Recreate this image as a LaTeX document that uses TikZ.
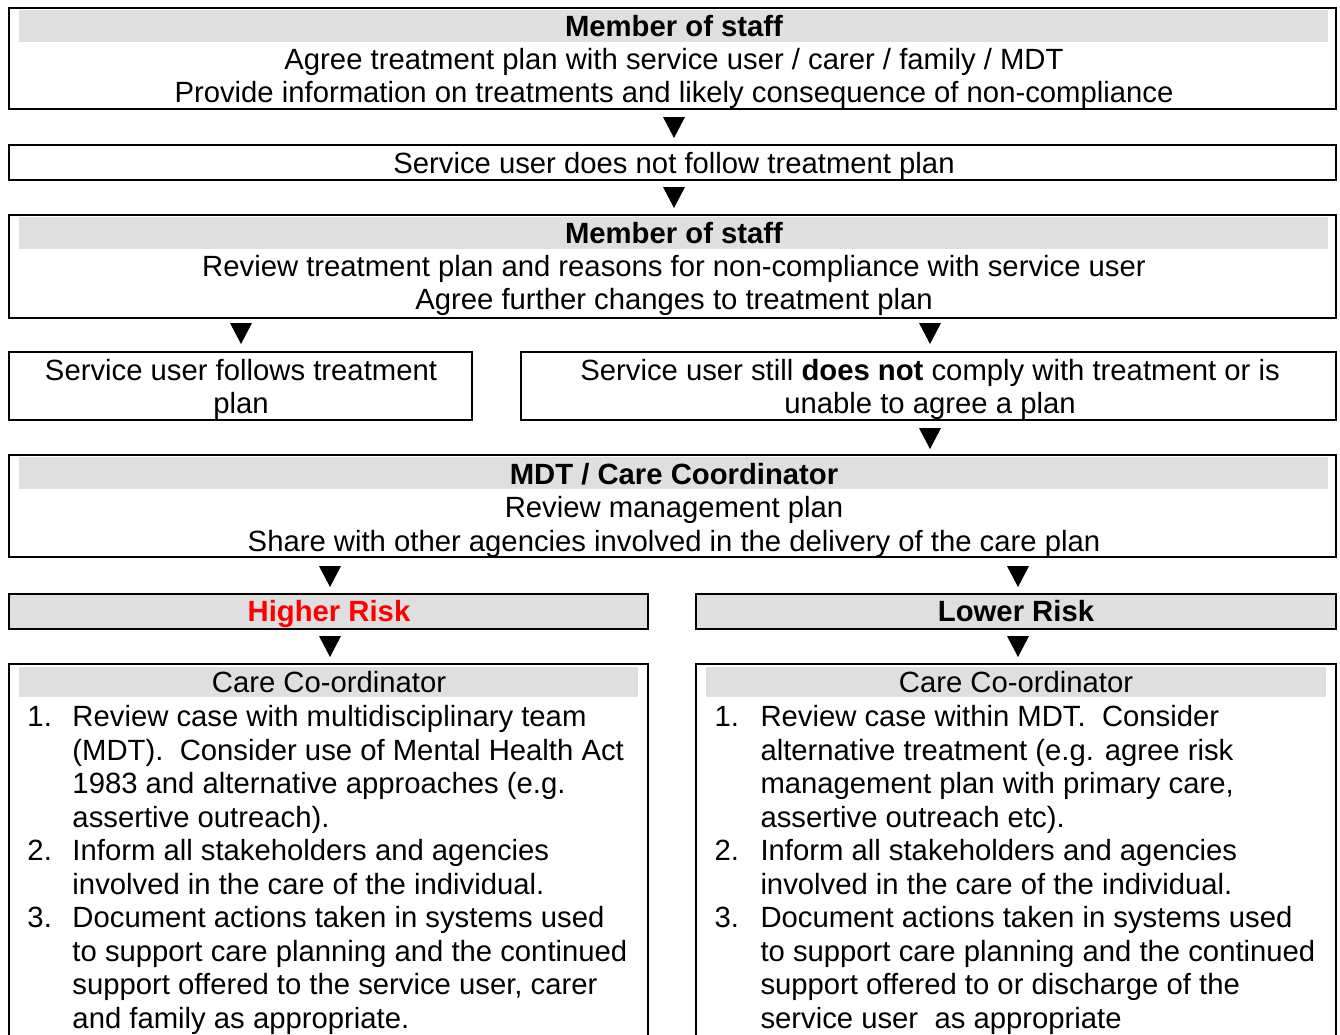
\documentclass[tikz,border=0pt]{standalone}
\usepackage{fontspec}
\setmainfont{Liberation Sans}
\usetikzlibrary{fit}
\definecolor{band}{RGB}{223,223,223}
\definecolor{hired}{RGB}{255,0,0}
\newcommand\downtri[2]{\fill[tri] (#1-11,#2) -- (#1+11,#2) -- (#1,#2+21) -- cycle;}
\begin{document}
\begin{tikzpicture}[x=0.41pt,y=-0.41pt,
  box/.style={draw=black, line width=0.9pt, inner sep=0pt},
  bandfill/.style={fill=band},
  tri/.style={fill=black},
  txt/.style={font=\fontsize{12pt}{13.74pt}\selectfont, inner sep=0pt, anchor=base},
  hdr/.style={font=\fontsize{12pt}{13.74pt}\selectfont\bfseries, inner sep=0pt, anchor=base},
  ltxt/.style={txt, anchor=base west}]
\useasboundingbox (0,0) rectangle (1340,1034);
\clip (0,0) rectangle (1340,1034);
\fill[white] (0,0) rectangle (1340,1034);

% gray bands
\fill[bandfill] (19,10) rectangle (1328,42);
\fill[bandfill] (19,217) rectangle (1328,249);
\fill[bandfill] (19,457) rectangle (1328,489);
\fill[bandfill] (9,594) rectangle (648,629);
\fill[bandfill] (696,594) rectangle (1336,629);
\fill[bandfill] (19,667) rectangle (638,697);
\fill[bandfill] (706,667) rectangle (1326,697);

% boxes
\node[box, fit={(9,8) (1336,109)}] (b1) {};
\node[box, fit={(9,145) (1336,180)}] (b2) {};
\node[box, fit={(9,215) (1336,318)}] (b3) {};
\node[box, fit={(9,352) (472,420)}] (b4a) {};
\node[box, fit={(521,352) (1336,420)}] (b4b) {};
\node[box, fit={(9,455) (1336,557)}] (b5) {};
\node[box, fit={(9,594) (648,629)}] (hr) {};
\node[box, fit={(696,594) (1336,629)}] (lr) {};
\node[box, fit={(9,664) (648,1060)}] (cl) {};
\node[box, fit={(696,664) (1336,1060)}] (cr) {};

% triangles
\downtri{674}{117}
\downtri{674}{187}
\downtri{241}{323}
\downtri{930}{323}
\downtri{930}{428}
\downtri{330}{566}
\downtri{1018}{566}
\downtri{330}{636}
\downtri{1018}{636}

% texts
\node[hdr] (t1) at (674,36) {Member of staff};
\node[txt] (t2) at (674,69) {Agree treatment plan with service user / carer / family / MDT};
\node[txt] (t3) at (674,102) {Provide information on treatments and likely consequence of non-compliance};
\node[txt] (t4) at (674,173) {Service user does not follow treatment plan};
\node[hdr] (t5) at (674,243) {Member of staff};
\node[txt] (t6) at (674,276) {Review treatment plan and reasons for non-compliance with service user};
\node[txt] (t7) at (674,309) {Agree further changes to treatment plan};
\node[txt] (t8) at (241,380) {Service user follows treatment};
\node[txt] (t9) at (241,413.5) {plan};
\node[txt] (t10) at (930,380) {Service user still \textbf{does not} comply with treatment or is};
\node[txt] (t11) at (930,413.5) {unable to agree a plan};
\node[hdr] (t12) at (674,484) {MDT / Care Coordinator};
\node[txt] (t13) at (674,517) {Review management plan};
\node[txt] (t14) at (674,551) {Share with other agencies involved in the delivery of the care plan};
\node[hdr, text=hired] (t15) at (329,621) {Higher Risk};
\node[hdr] (t16) at (1016,621) {Lower Risk};
\node[txt] (t17) at (329,692) {Care Co-ordinator};
\node[txt] (t18) at (1016,692) {Care Co-ordinator};

% left list
\node[ltxt] (ln1) at (27,726.5) {1.};
\node[ltxt] (ln2) at (27,860.5) {2.};
\node[ltxt] (ln3) at (27,927.5) {3.};
\node[ltxt] (la1) at (72,726.5) {Review case with multidisciplinary team};
\node[ltxt] (la2) at (72,760) {(MDT).~ Consider use of Mental Health Act};
\node[ltxt] (la3) at (72,793.5) {1983 and alternative approaches (e.g.};
\node[ltxt] (la4) at (72,827) {assertive outreach).};
\node[ltxt] (la5) at (72,860.5) {Inform all stakeholders and agencies};
\node[ltxt] (la6) at (72,894) {involved in the care of the individual.};
\node[ltxt] (la7) at (72,927.5) {Document actions taken in systems used};
\node[ltxt] (la8) at (72,961) {to support care planning and the continued};
\node[ltxt] (la9) at (72,994.5) {support offered to the service user, carer};
\node[ltxt] (la10) at (72,1028) {and family as appropriate.};

% right list
\node[ltxt] (rn1) at (714,726.5) {1.};
\node[ltxt] (rn2) at (714,860.5) {2.};
\node[ltxt] (rn3) at (714,927.5) {3.};
\node[ltxt] (ra1) at (760,726.5) {Review case within MDT.~ Consider};
\node[ltxt] (ra2) at (760,760) {alternative treatment (e.g. agree risk};
\node[ltxt] (ra3) at (760,793.5) {management plan with primary care,};
\node[ltxt] (ra4) at (760,827) {assertive outreach etc).};
\node[ltxt] (ra5) at (760,860.5) {Inform all stakeholders and agencies};
\node[ltxt] (ra6) at (760,894) {involved in the care of the individual.};
\node[ltxt] (ra7) at (760,927.5) {Document actions taken in systems used};
\node[ltxt] (ra8) at (760,961) {to support care planning and the continued};
\node[ltxt] (ra9) at (760,994.5) {support offered to or discharge of the};
\node[ltxt] (ra10) at (760,1028) {service user~ as appropriate};
\end{tikzpicture}
\end{document}
